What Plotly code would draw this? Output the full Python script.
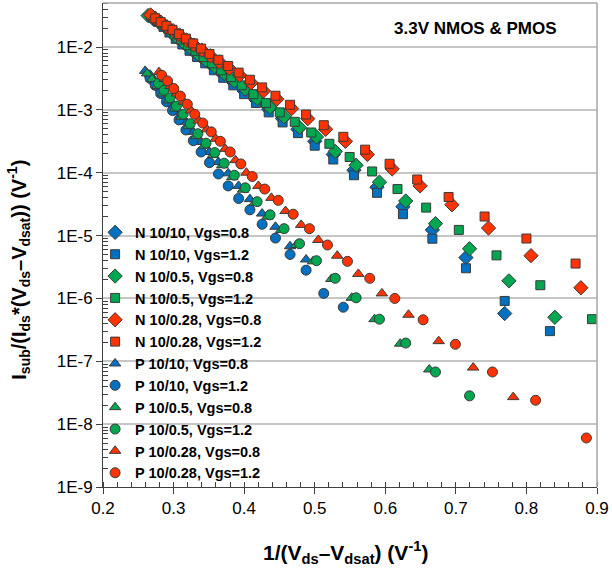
import numpy as np
import plotly.graph_objects as go

# ---- data (x = 1/(Vds-Vdsat) [1/V], y given as log10 of Isub/(Ids*(Vds-Vdsat)) [1/V]) ----
n1010_08_x = [0.2703,0.2778,0.2857,0.2941,0.3030,0.3125,0.3226,0.3333,0.3448,0.3571,0.3704,0.3846,0.4000,0.4167,0.4348,0.4545,0.4762,0.5000,0.5263,0.5556,0.5882,0.6250,0.6667,0.7143,0.7692]
n1010_08_logy = [-1.52,-1.58,-1.65,-1.73,-1.83,-1.92,-2.02,-2.12,-2.22,-2.32,-2.44,-2.56,-2.70,-2.84,-2.99,-3.14,-3.31,-3.50,-3.71,-3.96,-4.23,-4.54,-4.91,-5.35,-6.24]

n1010_12_x = [0.2703,0.2778,0.2857,0.2941,0.3030,0.3125,0.3226,0.3333,0.3448,0.3571,0.3704,0.3846,0.4000,0.4167,0.4348,0.4545,0.4762,0.5000,0.5263,0.5556,0.5882,0.6250,0.6667,0.7143,0.7692,0.8333]
n1010_12_logy = [-1.53,-1.60,-1.68,-1.77,-1.87,-1.96,-2.06,-2.16,-2.26,-2.37,-2.49,-2.61,-2.75,-2.89,-3.04,-3.20,-3.37,-3.57,-3.79,-4.04,-4.32,-4.66,-5.05,-5.52,-6.04,-6.52]

n1005_08_x = [0.2639,0.2710,0.2786,0.2865,0.2950,0.3040,0.3135,0.3236,0.3344,0.3460,0.3584,0.3717,0.3861,0.4016,0.4184,0.4367,0.4566,0.4785,0.5025,0.5291,0.5587,0.5917,0.6289,0.6711,0.7194,0.7752,0.8403]
n1005_08_logy = [-1.50,-1.55,-1.60,-1.66,-1.75,-1.84,-1.92,-2.01,-2.11,-2.21,-2.31,-2.42,-2.54,-2.67,-2.82,-2.96,-3.11,-3.28,-3.43,-3.66,-3.88,-4.15,-4.45,-4.81,-5.21,-5.72,-6.30]

n1005_12_x = [0.2688,0.2762,0.2841,0.2924,0.3012,0.3106,0.3205,0.3311,0.3425,0.3546,0.3676,0.3817,0.3968,0.4132,0.4310,0.4505,0.4717,0.4950,0.5208,0.5495,0.5814,0.6173,0.6579,0.7042,0.7576,0.8197,0.8929]
n1005_12_logy = [-1.51,-1.57,-1.64,-1.71,-1.80,-1.88,-1.97,-2.06,-2.16,-2.26,-2.37,-2.48,-2.61,-2.75,-2.89,-3.04,-3.19,-3.36,-3.54,-3.75,-3.98,-4.26,-4.555,-4.91,-5.315,-5.79,-6.33]

n10028_08_x = [0.2674,0.2747,0.2825,0.2907,0.2994,0.3086,0.3185,0.3289,0.3401,0.3521,0.3650,0.3788,0.3937,0.4098,0.4274,0.4464,0.4673,0.4902,0.5155,0.5435,0.5747,0.6098,0.6494,0.6944,0.7463,0.8065,0.8772]
n10028_08_logy = [-1.49,-1.55,-1.61,-1.68,-1.74,-1.81,-1.89,-1.97,-2.05,-2.14,-2.24,-2.34,-2.45,-2.57,-2.70,-2.83,-2.98,-3.14,-3.31,-3.50,-3.71,-3.94,-4.21,-4.51,-4.88,-5.32,-5.83]

n10028_12_x = [0.2740,0.2817,0.2899,0.2985,0.3077,0.3175,0.3279,0.3390,0.3509,0.3636,0.3774,0.3922,0.4082,0.4255,0.4444,0.4651,0.4878,0.5128,0.5405,0.5714,0.6061,0.6452,0.6897,0.7407,0.8000,0.8696]
n10028_12_logy = [-1.544,-1.602,-1.663,-1.727,-1.795,-1.867,-1.943,-2.025,-2.111,-2.203,-2.302,-2.408,-2.521,-2.643,-2.775,-2.919,-3.074,-3.244,-3.429,-3.633,-3.858,-4.108,-4.386,-4.697,-5.047,-5.445]

p1010_08_x = [0.2597,0.2667,0.2740,0.2817,0.2899,0.2985,0.3077,0.3175,0.3279,0.3390,0.3509,0.3636,0.3774,0.3922,0.4082,0.4255,0.4444,0.4651,0.4878]
p1010_08_logy = [-2.38,-2.44,-2.55,-2.66,-2.78,-2.91,-3.04,-3.19,-3.35,-3.51,-3.67,-3.83,-4.01,-4.21,-4.42,-4.65,-4.86,-5.17,-5.38]

p1010_12_x = [0.2667,0.2740,0.2817,0.2899,0.2985,0.3077,0.3175,0.3279,0.3390,0.3509,0.3636,0.3774,0.3922,0.4082,0.4255,0.4444,0.4651,0.4878,0.5128,0.5405]
p1010_12_logy = [-2.50,-2.61,-2.74,-2.87,-3.01,-3.16,-3.32,-3.49,-3.67,-3.84,-4.02,-4.21,-4.41,-4.59,-4.82,-5.04,-5.30,-5.55,-5.92,-6.14]

p1005_08_x = [0.2625,0.2695,0.2770,0.2849,0.2933,0.3021,0.3115,0.3215,0.3322,0.3436,0.3559,0.3690,0.3831,0.3984,0.4149,0.4329,0.4525,0.4739,0.4975,0.5236,0.5525,0.5848,0.6211,0.6623]
p1005_08_logy = [-2.42,-2.51,-2.62,-2.74,-2.85,-2.98,-3.11,-3.26,-3.42,-3.57,-3.72,-3.88,-4.07,-4.27,-4.48,-4.70,-4.91,-5.15,-5.41,-5.69,-5.99,-6.33,-6.72,-7.13]

p1005_12_x = [0.2786,0.2865,0.2950,0.3040,0.3135,0.3236,0.3344,0.3460,0.3584,0.3717,0.3861,0.4016,0.4184,0.4367,0.4566,0.4785,0.5025,0.5291,0.5587,0.5917,0.6289,0.6711,0.7194]
p1005_12_logy = [-2.58,-2.69,-2.81,-2.94,-3.07,-3.22,-3.38,-3.53,-3.68,-3.85,-4.04,-4.24,-4.46,-4.67,-4.89,-5.13,-5.40,-5.68,-5.99,-6.33,-6.71,-7.17,-7.55]

p10028_08_x = [0.2793,0.2874,0.2959,0.3049,0.3145,0.3247,0.3356,0.3472,0.3597,0.3731,0.3876,0.4032,0.4202,0.4386,0.4587,0.4808,0.5051,0.5319,0.5618,0.5952,0.6329,0.6757,0.7246,0.7813]
p10028_08_logy = [-2.40,-2.51,-2.62,-2.74,-2.87,-3.01,-3.17,-3.31,-3.46,-3.62,-3.80,-4.00,-4.21,-4.40,-4.61,-4.83,-5.07,-5.32,-5.61,-5.92,-6.26,-6.68,-7.10,-7.57]

p10028_12_x = [0.2833,0.2915,0.3003,0.3096,0.3195,0.3300,0.3413,0.3534,0.3663,0.3802,0.3953,0.4115,0.4292,0.4484,0.4695,0.4926,0.5181,0.5464,0.5780,0.6135,0.6536,0.6993,0.7519,0.8130,0.8850]
p10028_12_logy = [-2.45,-2.54,-2.66,-2.78,-2.91,-3.07,-3.21,-3.35,-3.50,-3.67,-3.86,-4.06,-4.26,-4.44,-4.66,-4.89,-5.15,-5.41,-5.68,-6.00,-6.34,-6.73,-7.17,-7.62,-8.22]

series_names = ["N 10/10, Vgs=0.8", "N 10/10, Vgs=1.2", "N 10/0.5, Vgs=0.8", "N 10/0.5, Vgs=1.2",
                "N 10/0.28, Vgs=0.8", "N 10/0.28, Vgs=1.2", "P 10/10, Vgs=0.8", "P 10/10, Vgs=1.2",
                "P 10/0.5, Vgs=0.8", "P 10/0.5, Vgs=1.2", "P 10/0.28, Vgs=0.8", "P 10/0.28, Vgs=1.2"]
series_x = [n1010_08_x, n1010_12_x, n1005_08_x, n1005_12_x, n10028_08_x, n10028_12_x,
            p1010_08_x, p1010_12_x, p1005_08_x, p1005_12_x, p10028_08_x, p10028_12_x]
series_logy = [n1010_08_logy, n1010_12_logy, n1005_08_logy, n1005_12_logy, n10028_08_logy, n10028_12_logy,
               p1010_08_logy, p1010_12_logy, p1005_08_logy, p1005_12_logy, p10028_08_logy, p10028_12_logy]

y_tick_vals = [1e-9, 1e-8, 1e-7, 1e-6, 1e-5, 1e-4, 1e-3, 1e-2]
y_tick_text = ["1E-9", "1E-8", "1E-7", "1E-6", "1E-5", "1E-4", "1E-3", "1E-2"]
x_tick_vals = [0.2, 0.3, 0.4, 0.5, 0.6, 0.7, 0.8, 0.9]

# ---- styles ----
BLUE, GREEN, RED = "#0070C0", "#00A650", "#FF3300"
colors = [BLUE, BLUE, GREEN, GREEN, RED, RED, BLUE, BLUE, GREEN, GREEN, RED, RED]
symbols = ["diamond", "square", "diamond", "square", "diamond", "square",
           "triangle-up", "circle", "triangle-up", "circle", "triangle-up", "circle"]
sizes = {"diamond": 11, "square": 9, "triangle-up": 10, "circle": 10}
FONT = "Liberation Sans, Arial, sans-serif"

fig = go.Figure()
for name, xs, ly, c, s in zip(series_names, series_x, series_logy, colors, symbols):
    fig.add_trace(go.Scatter(
        x=xs, y=(10.0 ** np.array(ly)), mode="markers", name=name,
        marker=dict(symbol=s, size=sizes[s], color=c, line=dict(color="#3a3a3a", width=1)),
    ))

minor_y = [m * 10.0 ** e for e in range(-9, -1) for m in range(2, 10)]

fig.update_layout(
    width=612, height=571,
    margin=dict(l=103, r=13, t=3, b=84),
    paper_bgcolor="white", plot_bgcolor="white",
    font=dict(family=FONT, color="black"),
    showlegend=True,
    legend=dict(x=-0.016, y=0.559, xanchor="left", yanchor="top",
                bgcolor="rgba(0,0,0,0)", borderwidth=0,
                font=dict(family=FONT, size=14.5, color="black", weight="bold"),
                itemwidth=30, tracegroupgap=0),
    xaxis=dict(range=[0.2, 0.9], tickmode="array", tickvals=x_tick_vals, tickformat=".1f",
               ticks="outside", ticklen=6, tickcolor="#404040",
               showline=True, linecolor="#404040", linewidth=1,
               showgrid=False, zeroline=False,
               tickfont=dict(family=FONT, size=17, color="black"),
               minor=dict(dtick=0.02, tick0=0.2, ticks="inside", ticklen=5, tickcolor="#404040", showgrid=False)),
    yaxis=dict(type="log", range=[-9, -1.3], tickmode="array", tickvals=y_tick_vals, ticktext=y_tick_text,
               ticks="outside", ticklen=6, tickcolor="#404040",
               showline=True, linecolor="#404040", linewidth=1,
               showgrid=True, gridcolor="#c6c6c6", gridwidth=1.5, zeroline=False,
               tickfont=dict(family=FONT, size=17, color="black"),
               minor=dict(tickmode="array", tickvals=minor_y, ticks="inside", ticklen=5,
                          tickcolor="#404040", showgrid=False)),
)

# plot-area frame (top / right)
fig.add_shape(type="line", xref="paper", yref="paper", x0=0, x1=1, y0=1, y1=1,
              line=dict(color="#a6a6a6", width=1.5))
fig.add_shape(type="line", xref="paper", yref="paper", x0=1, x1=1, y0=0, y1=1,
              line=dict(color="#a6a6a6", width=1.5))

fig.add_annotation(xref="paper", yref="paper", x=0.921, y=0.948, xanchor="right", yanchor="middle",
                   text="3.3V NMOS &amp; PMOS", showarrow=False,
                   font=dict(family=FONT, size=17, color="black", weight="bold"))
fig.add_annotation(xref="paper", yref="paper", x=0.49, y=-0.136, xanchor="center", yanchor="middle",
                   text="1/(V<sub>ds</sub>\u2013V<sub>dsat</sub>) (V<sup>-1</sup>)", showarrow=False,
                   font=dict(family=FONT, size=21, color="black", weight="bold"))
fig.add_annotation(xref="paper", yref="paper", x=-0.171, y=0.448, xanchor="center", yanchor="middle",
                   textangle=-90,
                   text="I<sub>sub</sub>/(I<sub>ds</sub>*(V<sub>ds</sub>\u2013V<sub>dsat</sub>)) (V<sup>-1</sup>)",
                   showarrow=False, font=dict(family=FONT, size=20, color="black", weight="bold"))

fig.write_html("out.html")
